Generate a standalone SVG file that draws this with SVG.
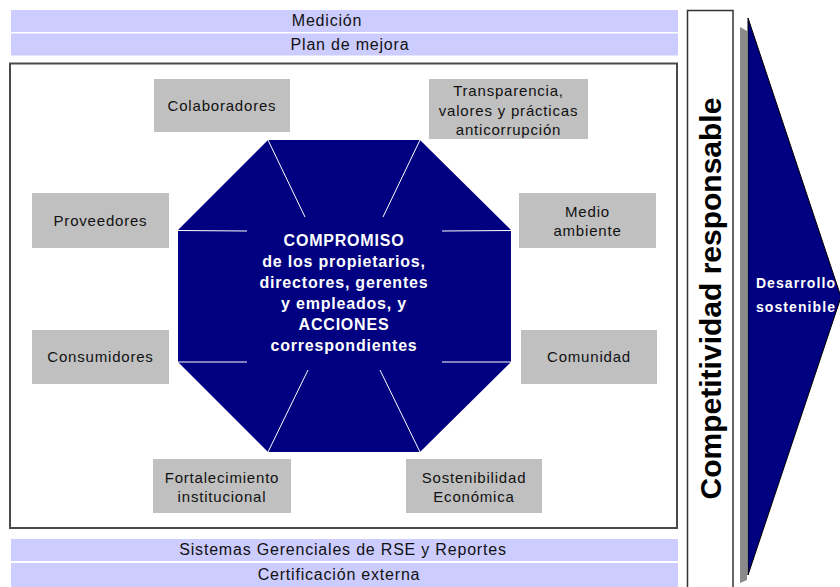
<svg xmlns="http://www.w3.org/2000/svg" width="840" height="587" viewBox="0 0 840 587">
<style>
.bar{fill:#ccccff}
.bartxt{font-family:"Liberation Sans",Arial,sans-serif;font-size:16px;letter-spacing:0.8px;fill:#111;text-anchor:middle}
.box{fill:#c0c0c0}
.lbl{font-family:"Liberation Sans",Arial,sans-serif;font-size:15px;letter-spacing:0.8px;fill:#111;text-anchor:middle}
.ctr{font-family:"Liberation Sans",Arial,sans-serif;font-size:16px;font-weight:bold;letter-spacing:0.8px;fill:#fff;text-anchor:middle}
.spoke{stroke:#fff;stroke-width:1;fill:none}
</style>
<rect width="840" height="587" fill="#fff"/>

<g id="medicion"><rect class="bar" x="11" y="10" width="667" height="22"/><text class="bartxt" x="327" y="26">Medición</text></g>
<g id="plan-mejora"><rect class="bar" x="11" y="33.5" width="667" height="22"/><text class="bartxt" x="350" y="50">Plan de mejora</text></g>

<g id="marco"><rect x="10" y="63.5" width="667" height="464.5" fill="#fff" stroke="#4a4a4a" stroke-width="2"/></g>

<g id="sistemas"><rect class="bar" x="11" y="539" width="667" height="22"/><text class="bartxt" x="343" y="555">Sistemas Gerenciales de RSE y Reportes</text></g>
<g id="certificacion"><rect class="bar" x="11" y="563" width="667" height="24"/><text class="bartxt" x="339" y="580">Certificación externa</text></g>

<g id="compromiso">
<polygon points="268,140 420,140 511,230 511,362 420,452 268,452 178,362 178,230" fill="#000080"/>
<text class="ctr" x="344" y="246">COMPROMISO</text>
<text class="ctr" x="344" y="267">de los propietarios,</text>
<text class="ctr" x="344" y="288">directores, gerentes</text>
<text class="ctr" x="344" y="309">y empleados, y</text>
<text class="ctr" x="344" y="330">ACCIONES</text>
<text class="ctr" x="344" y="351">correspondientes</text>
</g>

<g id="connectors">
<line class="spoke" x1="268" y1="140" x2="305" y2="217"/>
<line class="spoke" x1="420" y1="140" x2="383" y2="217"/>
<line class="spoke" x1="178" y1="230.5" x2="247" y2="231"/>
<line class="spoke" x1="511" y1="230.5" x2="442" y2="231"/>
<line class="spoke" x1="178" y1="362" x2="247" y2="362"/>
<line class="spoke" x1="511" y1="362" x2="442" y2="362"/>
<line class="spoke" x1="268" y1="452" x2="308" y2="370"/>
<line class="spoke" x1="420" y1="452" x2="380" y2="370"/>
</g>

<g id="colaboradores"><rect class="box" x="154" y="79" width="136" height="53"/><text class="lbl" x="222" y="111">Colaboradores</text></g>
<g id="transparencia"><rect class="box" x="429" y="79" width="159" height="60"/>
<text class="lbl" x="508.5" y="96">Transparencia,</text>
<text class="lbl" x="508.5" y="116">valores y prácticas</text>
<text class="lbl" x="508.5" y="135">anticorrupción</text></g>
<g id="proveedores"><rect class="box" x="32" y="193" width="137" height="55"/><text class="lbl" x="100.5" y="226">Proveedores</text></g>
<g id="medio-ambiente"><rect class="box" x="519" y="193" width="137" height="55"/>
<text class="lbl" x="587.5" y="217">Medio</text>
<text class="lbl" x="587.5" y="236">ambiente</text></g>
<g id="consumidores"><rect class="box" x="32" y="330" width="137" height="54"/><text class="lbl" x="100.5" y="362">Consumidores</text></g>
<g id="comunidad"><rect class="box" x="521" y="330" width="136" height="54"/><text class="lbl" x="589" y="362">Comunidad</text></g>
<g id="fortalecimiento"><rect class="box" x="153" y="459" width="138" height="54"/>
<text class="lbl" x="222" y="483">Fortalecimiento</text>
<text class="lbl" x="222" y="502">institucional</text></g>
<g id="sostenibilidad"><rect class="box" x="406" y="459" width="136" height="54"/>
<text class="lbl" x="474" y="483">Sostenibilidad</text>
<text class="lbl" x="474" y="502">Económica</text></g>

<g id="competitividad">
<rect x="687.5" y="10.5" width="45.5" height="578" fill="#fff" stroke="#333" stroke-width="1.5"/>
<text transform="translate(721,298.5) rotate(-90)" font-family="'Liberation Sans',Arial,sans-serif" font-size="30" font-weight="bold" fill="#000" text-anchor="middle">Competitividad responsable</text>
</g>

<g id="desarrollo">
<polygon points="740,27 747,31 747,580 740,583" fill="#8a8a8a"/>
<polygon points="748,18 841,297 748,575" fill="#000080" stroke="#000" stroke-width="1"/>
<text font-family="'Liberation Sans',Arial,sans-serif" font-size="14" font-weight="bold" letter-spacing="1.1" fill="#fff" text-anchor="middle" x="796" y="288">Desarrollo</text>
<text font-family="'Liberation Sans',Arial,sans-serif" font-size="14" font-weight="bold" letter-spacing="1.1" fill="#fff" text-anchor="middle" x="796" y="312">sostenible</text>
</g>
</svg>
